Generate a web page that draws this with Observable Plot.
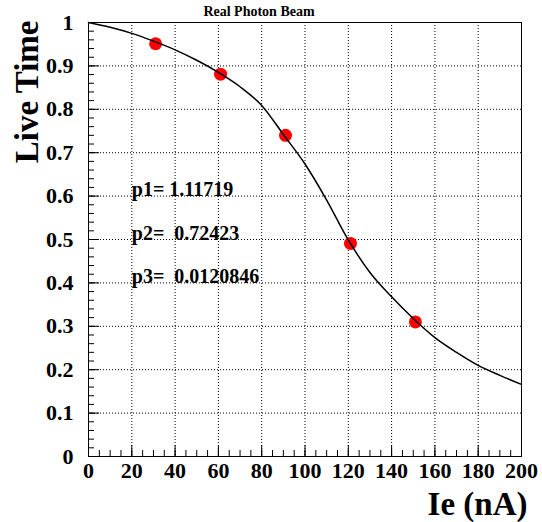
<!DOCTYPE html>
<html><head><meta charset="utf-8">
<script src="https://cdn.jsdelivr.net/npm/d3@7"></script>
<script src="https://cdn.jsdelivr.net/npm/@observablehq/plot@0.6"></script>
<style>
body{margin:0;background:#fff}
svg{display:block}
svg text{font-family:'Liberation Serif','Times New Roman',serif !important;white-space:pre}
</style>
</head><body><div id="chart"></div>
<script>
const title = "Real Photon Beam";
const xLabel = "Ie (nA)";
const yLabel = "Live Time";
// measured points
const current = [31, 61, 91, 121, 151];
const liveTime = [0.951, 0.881, 0.740, 0.491, 0.310];
// fit curve
const fitX = [0, 10, 20, 30, 40, 50, 60, 70, 80, 90, 100, 110, 120, 130, 140, 150, 160, 170, 180, 190, 200];
const fitY = [1.0, 0.989, 0.975, 0.957, 0.937, 0.913, 0.885, 0.852, 0.809, 0.742, 0.674, 0.591, 0.499, 0.424, 0.368, 0.318, 0.274, 0.240, 0.210, 0.187, 0.166];
// fit parameters
const paramLabels = ["p1= 1.11719", "p2=  0.72423", "p3=  0.0120846"];
const paramY = [0.6, 0.5, 0.4];
// tick labels
const xTicks = [0, 20, 40, 60, 80, 100, 120, 140, 160, 180, 200];
const yTicks = [0, 0.1, 0.2, 0.3, 0.4, 0.5, 0.6, 0.7, 0.8, 0.9, 1];

const W = 542, H = 522;
const mL = 88, mR = 21, mT = 22, mB = 66;
const fw = W - mL - mR, fh = H - mT - mB;
const xMinor = d3.range(0, 201, 5);
const yMinor = d3.range(0, 51).map(i => +(i * 0.02).toFixed(2));
const font = "'Liberation Serif', 'Times New Roman', serif";

const chart = Plot.plot({
  width: W, height: H,
  marginLeft: mL, marginRight: mR, marginTop: mT, marginBottom: mB,
  style: {fontFamily: font, background: "white", color: "black"},
  x: {domain: [0, 200]},
  y: {domain: [0, 1]},
  marks: [
    Plot.ruleX(xTicks.slice(1, -1), {x: d => d, stroke: "black", strokeDasharray: "1,2", strokeWidth: 1}),
    Plot.ruleY(yTicks.slice(1, -1), {y: d => d, stroke: "black", strokeDasharray: "1,2", strokeWidth: 1}),
    Plot.tickX(xMinor, {x: d => d, stroke: "black", insetTop: fh - 6}),
    Plot.tickX(xTicks, {x: d => d, stroke: "black", insetTop: fh - 11}),
    Plot.tickY(yMinor, {y: d => d, stroke: "black", insetRight: fw - 6}),
    Plot.tickY(yTicks, {y: d => d, stroke: "black", insetRight: fw - 11}),
    Plot.frame({stroke: "black", strokeWidth: 1}),
    Plot.axisX({ticks: xTicks, tickSize: 0, tickPadding: 6, fontSize: 22, fontWeight: "bold", fontFamily: font, label: null, tickFormat: d => String(d)}),
    Plot.axisY({ticks: yTicks, tickSize: 0, tickPadding: 15, fontSize: 22, fontWeight: "bold", fontFamily: font, label: null, tickFormat: d => String(+d.toFixed(1))}),
    Plot.dot(current, {x: current, y: liveTime, r: 6.5, fill: "#ff0000", stroke: null}),
    Plot.line(fitX, {x: fitX, y: fitY, curve: "monotone-x", stroke: "black", strokeWidth: 1.5}),
    Plot.text(paramLabels, {x: 20, y: (d, i) => paramY[i], text: d => d, textAnchor: "start", lineAnchor: "bottom", fontSize: 20, fontWeight: "bold", fontFamily: font, fill: "black"}),
    Plot.text([title], {frameAnchor: "top", text: d => d, dx: -46, dy: -7, lineAnchor: "bottom", fontSize: 14, fontWeight: "bold", fontFamily: font, fill: "black"}),
    Plot.text([xLabel], {frameAnchor: "bottom-right", text: d => d, dx: 6, dy: 58, textAnchor: "end", lineAnchor: "bottom", fontSize: 33, fontWeight: "bold", fontFamily: font, fill: "black"}),
    Plot.text([yLabel], {frameAnchor: "top-left", text: d => d, dx: -61, dy: -2, rotate: -90, textAnchor: "end", lineAnchor: "middle", fontSize: 33, fontWeight: "bold", fontFamily: font, fill: "black"})
  ]
});
document.getElementById("chart").appendChild(chart);
</script>
</body></html>
